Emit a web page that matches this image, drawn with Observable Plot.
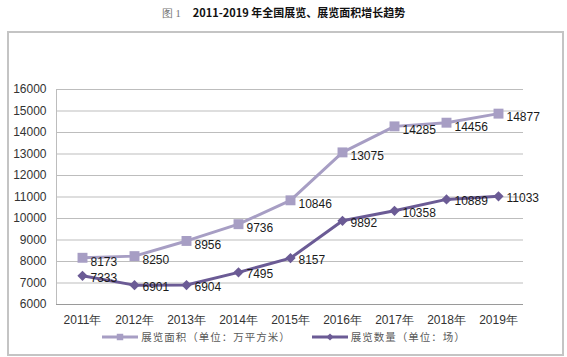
<!DOCTYPE html>
<html>
<head>
<meta charset="utf-8">
<script src="https://cdn.jsdelivr.net/npm/d3@7"></script>
<script src="https://cdn.jsdelivr.net/npm/@observablehq/plot@0.6"></script>
<style>
  html, body { margin: 0; padding: 0; background: #fff; }
  #wrap { position: relative; width: 567px; height: 357px; overflow: hidden; font-family: "Liberation Sans", Arial, sans-serif; }
  #title { position: absolute; left: 0; top: 4px; width: 567px; text-align: center; font-size: 11px; line-height: 16px; color: #111; }
  #title .fig { font-family: "Liberation Serif", serif; color: #777; font-weight: normal; margin-right: 12px; font-size: 10.5px; }
  #title .main { font-family: "Noto Sans CJK SC", sans-serif; font-weight: bold; }
  #frame { position: absolute; left: 7px; top: 31px; width: 553px; height: 321px; border: 2px solid #c4c4c4; box-sizing: content-box; }
  #chart { position: absolute; left: 0; top: 0; }
  #legend { position: absolute; left: 0; top: 329px; width: 567px; display: flex; justify-content: center; align-items: center; font-family: "Noto Sans CJK SC", sans-serif; font-size: 10.5px; color: #5a5a5a; letter-spacing: 1px; }
  #legend .item { display: flex; align-items: center; margin: 0 10px; }
  #legend svg { margin-right: 2px; }
</style>
</head>
<body>
<div id="wrap">
  <div id="title"><span class="fig">图 1</span><span class="main">2011-2019 年全国展览、展览面积增长趋势</span></div>
  <div id="frame"></div>
  <div id="chart"></div>
  <div id="legend"></div>
</div>
<script>
const years = ["2011年","2012年","2013年","2014年","2015年","2016年","2017年","2018年","2019年"];
const areaValues = [8173, 8250, 8956, 9736, 10846, 13075, 14285, 14456, 14877];
const countValues = [7333, 6901, 6904, 7495, 8157, 9892, 10358, 10889, 11033];
const yTicks = [6000, 7000, 8000, 9000, 10000, 11000, 12000, 13000, 14000, 15000, 16000];
const seriesNames = ["展览面积（单位：万平方米）", "展览数量（单位：场）"];
const areaColor = "#a79ec4";
const countColor = "#6b5b95";

const areaData = years.map((y, i) => ({year: y, value: areaValues[i]}));
const countData = years.map((y, i) => ({year: y, value: countValues[i]}));

const chart = Plot.plot({
  width: 567,
  height: 330,
  marginTop: 89,
  marginBottom: 26,
  marginLeft: 56,
  marginRight: 44,
  style: {fontFamily: "'Liberation Sans', Arial, sans-serif", fontSize: "12px", color: "#333", background: "transparent"},
  x: {type: "point", domain: years, padding: 0.46, label: null, tickSize: 0, tickPadding: 11},
  y: {domain: [6000, 16000], ticks: yTicks, tickFormat: d => String(d), label: null, tickSize: 0, tickPadding: 10},
  marks: [
    Plot.gridY(yTicks, {stroke: "#bdbdbd", strokeOpacity: 1, strokeWidth: 1}),
    Plot.ruleX([years[0]], {stroke: "#bdbdbd", strokeWidth: 1, y1: 6000, y2: 16000, dx: -26}),
    Plot.ruleY([6000], {stroke: "#9a9a9a", strokeWidth: 1}),
    Plot.line(areaData, {x: "year", y: "value", stroke: areaColor, strokeWidth: 3}),
    Plot.dot(areaData, {x: "year", y: "value", symbol: "square", r: 5.6, fill: areaColor, stroke: "none"}),
    Plot.line(countData, {x: "year", y: "value", stroke: countColor, strokeWidth: 3}),
    Plot.dot(countData, {x: "year", y: "value", symbol: "square", rotate: 45, r: 4.1, fill: countColor, stroke: "none"}),
    Plot.text(areaData, {x: "year", y: "value", text: d => String(d.value), textAnchor: "start", dx: 8, dy: 4, fill: "#1a1a1a", fontSize: 12}),
    Plot.text(countData, {x: "year", y: "value", text: d => String(d.value), textAnchor: "start", dx: 8, dy: 2, fill: "#1a1a1a", fontSize: 12})
  ]
});
document.getElementById("chart").appendChild(chart);

// legend
const legend = document.getElementById("legend");
const swatch = (color, shape) => {
  const ns = "http://www.w3.org/2000/svg";
  const svg = document.createElementNS(ns, "svg");
  svg.setAttribute("width", 38); svg.setAttribute("height", 12);
  const line = document.createElementNS(ns, "line");
  line.setAttribute("x1", 1); line.setAttribute("x2", 37); line.setAttribute("y1", 6); line.setAttribute("y2", 6);
  line.setAttribute("stroke", color); line.setAttribute("stroke-width", 3);
  svg.appendChild(line);
  const p = document.createElementNS(ns, "path");
  p.setAttribute("transform", shape === "square" ? "translate(19,6)" : "translate(19,6) rotate(45)");
  p.setAttribute("d", d3.symbol(d3.symbolSquare, shape === "square" ? 42 : 26)());
  p.setAttribute("fill", color);
  svg.appendChild(p);
  return svg;
};
[[areaColor, "square"], [countColor, "diamond"]].forEach(([c, s], i) => {
  const item = document.createElement("div");
  item.className = "item";
  item.appendChild(swatch(c, s));
  const t = document.createElement("span");
  t.textContent = seriesNames[i];
  item.appendChild(t);
  legend.appendChild(item);
});
</script>
</body>
</html>
